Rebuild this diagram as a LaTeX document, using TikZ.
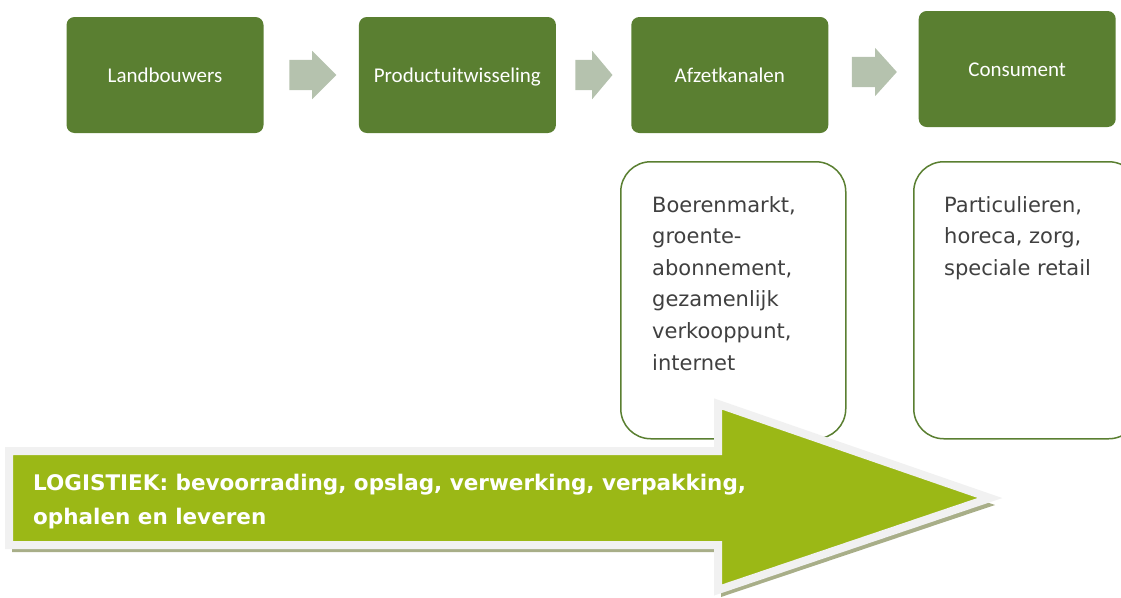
\documentclass[tikz,border=0pt]{standalone}
\usepackage{fontspec}
\setmainfont{DejaVu Sans}
\newfontfamily\boxfont{Carlito}
\usetikzlibrary{positioning,shapes.arrows,calc}
\definecolor{boxgreen}{RGB}{90,127,49}
\definecolor{stepgray}{RGB}{181,194,174}
\definecolor{limegreen}{RGB}{155,184,22}
\definecolor{rimgray}{RGB}{241,241,241}
\definecolor{shadowolive}{RGB}{168,174,136}
\definecolor{bodytext}{RGB}{64,64,64}
\tikzset{
  stage/.style={draw=none,fill=boxgreen,rounded corners=8pt,
               minimum width=197pt,minimum height=116pt,inner sep=0pt,
               text height=18.5pt,text depth=4pt,
               text=white,font=\boxfont\fontsize{21}{25}\selectfont},
  flow/.style={single arrow,fill=stepgray,draw=none,inner xsep=0pt,
               inner ysep=15pt,minimum height=47pt,xshift=-6pt,
               single arrow head extend=9pt},
  detail/.style={draw=boxgreen,line width=1.5pt,fill=white,
               rounded corners=30pt,minimum width=225pt,minimum height=277pt,
               anchor=north west},
  detailtext/.style={anchor=base west,align=left,inner sep=0pt,
               text=bodytext,font=\fontsize{21}{31.6}\selectfont},
  logistics/.style={fill=limegreen,draw=rimgray,line width=8pt,line join=miter},
  logshadow/.style={fill=shadowolive,draw=none},
}

\begin{document}
\begin{tikzpicture}[x=1pt,y=-1pt]
  \useasboundingbox (0,0) rectangle (1121,597);
  % chain of stages along the top
  \node[stage] (land) at (165,75) {Landbouwers};
  \node[stage,right=95pt of land] (prod) {Productuitwisseling};
  \node[stage,right=75pt of prod] (afzet) {Afzetkanalen};
  \node[stage,right=90pt of afzet,yshift=6pt] (cons) {Consument};
  % block arrows between the stages
  \node[flow] (f1) at ($(land.east)!0.5!(prod.west)$) {};
  \node[flow,minimum height=37pt,single arrow tip angle=100] (f2)
        at ($(prod.east)!0.5!(afzet.west)$) {};
  \node[flow,minimum height=45pt,single arrow tip angle=96] (f3)
        at ($(afzet.east)!0.5!(cons.west)$) {};
  % detail boxes under the last two stages (anchored on their last line)
  \node[detail] (afzdet) at (620,161) {};
  \node[detail] (consdet) at (913,161) {};
  \node[detailtext] (afztxt) at ($(afzdet.north west)+(32,209)$)
        {Boerenmarkt,\\groente-\\abonnement,\\gezamenlijk\\verkooppunt,\\internet};
  \node[detailtext] (constxt) at ($(consdet.north west)+(31,114.2)$)
        {Particulieren,\\horeca, zorg,\\speciale retail};
  % logistics arrow across the bottom
  \coordinate (lt) at (9,451);
  \coordinate (lb) at (9,545);
  \coordinate (ht) at (718,404);
  \coordinate (hb) at (718,590);
  \coordinate (tip) at (990,498);
  \fill[logshadow] ($(lt)+(3,7)$) -- ($(lt-|ht)+(3,7)$) -- ($(ht)+(3,7)$)
        -- ($(tip)+(5,7)$) -- ($(hb)+(3,7)$) -- ($(lb-|hb)+(3,7)$)
        -- ($(lb)+(3,7)$) -- cycle;
  \draw[logistics] (lt) -- (lt-|ht) -- (ht) -- (tip) -- (hb) -- (lb-|hb)
        -- (lb) -- cycle;
  \node[anchor=base west,align=left,inner sep=0pt,text=white,
        font=\bfseries\fontsize{21.5}{34}\selectfont] (logtxt) at (33,524)
        {LOGISTIEK: bevoorrading, opslag, verwerking, verpakking,\\ophalen en leveren};
\end{tikzpicture}
\end{document}
